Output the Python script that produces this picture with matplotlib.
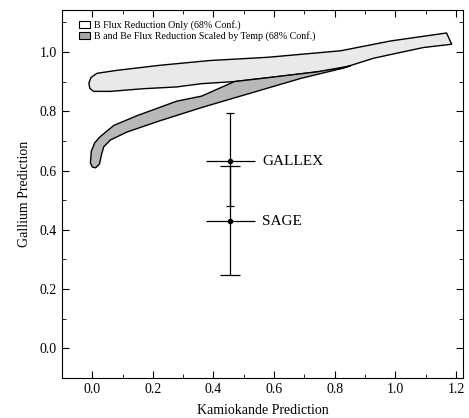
import matplotlib
matplotlib.use("Agg")
import matplotlib.pyplot as plt
from matplotlib.patches import Polygon, Patch
import numpy as np

plt.rcParams['font.family'] = ['Liberation Serif', 'DejaVu Serif']

# Contour: B flux reduction only (closed outline), x/y pairs
b_only_x = [-0.011, -0.004, 0.016, 0.082, 0.223, 0.387, 0.579, 0.82, 0.984, 1.169, 1.186,
            1.093, 0.929, 0.82, 0.743, 0.579, 0.469, 0.361, 0.279, 0.169, 0.06, 0.005, -0.008]
b_only_y = [0.895, 0.914, 0.928, 0.938, 0.955, 0.971, 0.982, 1.004, 1.037, 1.064, 1.026,
            1.015, 0.979, 0.944, 0.933, 0.913, 0.900, 0.893, 0.882, 0.876, 0.867, 0.867, 0.877]

# Contour: B and Be flux reduction scaled by temp
bbe_x = [-0.006, -0.003, 0.008, 0.026, 0.071, 0.148, 0.279, 0.361, 0.469, 0.579, 0.743, 0.852,
         0.83, 0.689, 0.579, 0.469, 0.361, 0.224, 0.115, 0.060, 0.038, 0.031, 0.024, 0.011, 0.000]
bbe_y = [0.626, 0.665, 0.693, 0.714, 0.752, 0.785, 0.834, 0.851, 0.900, 0.913, 0.933, 0.953,
         0.946, 0.911, 0.878, 0.845, 0.8125, 0.768, 0.730, 0.703, 0.680, 0.655, 0.622, 0.609, 0.612]

# Experiments
exp_names = ["GALLEX", "SAGE"]
exp_x = [0.456, 0.456]
exp_xerr = [0.082, 0.082]
exp_y = [0.632, 0.428]
exp_ylo = [0.480, 0.247]
exp_yhi = [0.793, 0.615]
exp_cap = [2.9, 7.0]

xticks = [0.0, 0.2, 0.4, 0.6, 0.8, 1.0, 1.2]
yticks = [0.0, 0.2, 0.4, 0.6, 0.8, 1.0]

fig = plt.figure(figsize=(4.69, 4.18), dpi=100)
ax = fig.add_axes([0.132, 0.0957, 0.855, 0.880])

ax.add_patch(Polygon(np.column_stack([b_only_x, b_only_y]), closed=True,
                     facecolor='#e9e9e9', edgecolor='black', linewidth=1.0,
                     joinstyle='round', zorder=2))
ax.add_patch(Polygon(np.column_stack([bbe_x, bbe_y]), closed=True,
                     facecolor='#b8b8b8', edgecolor='black', linewidth=1.0,
                     joinstyle='round', zorder=3))

for name, x, xe, y, lo, hi, cs in zip(exp_names, exp_x, exp_xerr, exp_y, exp_ylo, exp_yhi, exp_cap):
    ax.errorbar([x], [y], yerr=[[y - lo], [hi - y]], fmt='none', ecolor='black',
                elinewidth=0.9, capsize=cs, capthick=0.9, zorder=4)
    ax.errorbar([x], [y], xerr=[xe], fmt='o', color='black', markersize=3.0,
                elinewidth=0.9, capsize=0, zorder=5)
    ax.text(x + 0.105, y, name, fontsize=11, va='center', ha='left')

ax.set_xlim(-0.092, 1.223)
ax.set_ylim(-0.069, 1.141)
ax.set_xticks(xticks)
ax.set_yticks(yticks)
ax.set_xticklabels([f"{t:.1f}" for t in xticks])
ax.set_yticklabels([f"{t:.1f}" for t in yticks])
ax.set_xticks(np.arange(-0.1, 1.25, 0.1), minor=True)
ax.set_yticks(np.arange(-0.1, 1.15, 0.1), minor=True)
ax.tick_params(which='both', direction='in', top=True, right=True, labelsize=10)
ax.tick_params(which='major', length=5)
ax.tick_params(which='minor', length=3)
ax.set_xlabel("Kamiokande Prediction", fontsize=10, labelpad=6)
ax.set_ylabel("Gallium Prediction", fontsize=10, labelpad=6)

handles = [Patch(facecolor='white', edgecolor='black', linewidth=0.8,
                 label="B Flux Reduction Only (68% Conf.)"),
           Patch(facecolor='#a8a8a8', edgecolor='black', linewidth=0.8,
                 label="B and Be Flux Reduction Scaled by Temp (68% Conf.)")]
ax.legend(handles=handles, loc='upper left', fontsize=7.2, frameon=False,
          handlelength=1.1, handleheight=0.8, handletextpad=0.4,
          labelspacing=0.1, borderaxespad=0.6, bbox_to_anchor=(0.018, 1.0))

fig.savefig("out.png", dpi=100)
